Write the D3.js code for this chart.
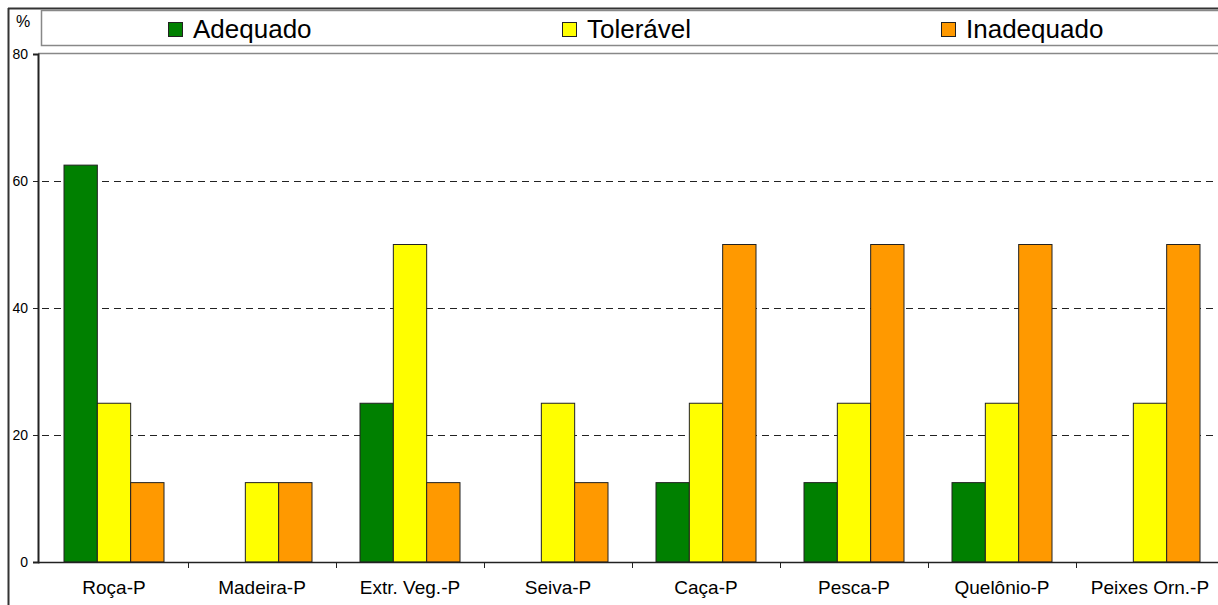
<!DOCTYPE html>
<html>
<head>
<meta charset="utf-8">
<script src="https://cdn.jsdelivr.net/npm/d3@7/dist/d3.min.js"></script>
<style>
  html, body { margin: 0; padding: 0; background: #fff; }
  svg { display: block; font-family: "Liberation Sans", Arial, sans-serif; }
</style>
</head>
<body>
<svg id="chart" width="1218" height="605"></svg>
<script>
// Activity categories along the x axis
const categories = ["Roça-P", "Madeira-P", "Extr. Veg.-P", "Seiva-P", "Caça-P", "Pesca-P", "Quelônio-P", "Peixes Orn.-P"];
// Percentages per rating
const adequado   = [62.5, 0, 25, 0, 12.5, 12.5, 12.5, 0];
const toleravel  = [25, 12.5, 50, 25, 25, 25, 25, 25];
const inadequado = [12.5, 12.5, 12.5, 12.5, 50, 50, 50, 50];
const seriesNames = ["Adequado", "Tolerável", "Inadequado"];
const seriesColors = ["#008000", "#ffff00", "#ff9900"];
const yTicks = [0, 20, 40, 60, 80];

const series = [adequado, toleravel, inadequado];
const svg = d3.select("#chart");

const plotLeft = 38, plotTop = 54, plotBottom = 562;

// category bands run slightly past the visible right edge
const x = d3.scaleBand().domain(categories).range([40, 1224]).paddingInner(0).paddingOuter(0);
const xs = d3.scaleBand().domain(seriesNames).range([0, x.bandwidth()]).paddingInner(0).paddingOuter(0.72);
const y = d3.scaleLinear().domain([0, 80]).range([plotBottom, plotTop]);

// outer frame
svg.append("line").attr("x1", 8).attr("x2", 1218).attr("y1", 8.5).attr("y2", 8.5).attr("stroke", "#333").attr("stroke-width", 2);
svg.append("line").attr("x1", 8.5).attr("x2", 8.5).attr("y1", 8).attr("y2", 605).attr("stroke", "#333").attr("stroke-width", 2);

// legend box
svg.append("rect").attr("x", 41.5).attr("y", 10.5).attr("width", 1180).attr("height", 35)
  .attr("fill", "#fff").attr("stroke", "#888").attr("stroke-width", 1.5);
const legendX = [168, 562, 941];
seriesNames.forEach((name, i) => {
  const g = svg.append("g").attr("transform", `translate(${legendX[i]},0)`);
  g.append("rect").attr("x", 0.5).attr("y", 22.5).attr("width", 14).attr("height", 14)
    .attr("fill", seriesColors[i]).attr("stroke", "#222").attr("stroke-width", 1);
  g.append("text").attr("x", 25).attr("y", 37.5).attr("font-size", 26).attr("fill", "#000").text(name);
});

// "%" unit label
svg.append("text").attr("x", 16).attr("y", 27).attr("font-size", 16).text("%");

// plot top border
svg.append("line").attr("x1", plotLeft).attr("x2", 1218).attr("y1", plotTop - 0.5).attr("y2", plotTop - 0.5)
  .attr("stroke", "#888").attr("stroke-width", 1.5);

// dashed gridlines
svg.append("g").selectAll("line").data(yTicks.filter(t => t > 0 && t < 80)).join("line")
  .attr("x1", plotLeft + 4).attr("x2", 1218)
  .attr("y1", d => Math.round(y(d)) + 0.5).attr("y2", d => Math.round(y(d)) + 0.5)
  .attr("stroke", "#222").attr("stroke-width", 1).attr("stroke-dasharray", "7,5");

// bars
const groups = svg.append("g").selectAll("g").data(categories).join("g")
  .attr("transform", d => `translate(${x(d)},0)`);
groups.each(function(cat, ci) {
  const g = d3.select(this);
  series.forEach((vals, si) => {
    const v = vals[ci];
    if (v <= 0) return;
    g.append("rect")
      .attr("x", xs(seriesNames[si]))
      .attr("y", y(v))
      .attr("width", xs.bandwidth())
      .attr("height", y(0) - y(v))
      .attr("fill", seriesColors[si])
      .attr("stroke", "#222").attr("stroke-width", 1);
  });
});

// y axis
const yAxis = d3.axisLeft(y).tickValues(yTicks).tickSize(5).tickPadding(5).tickFormat(d3.format("d"));
const yg = svg.append("g").attr("transform", `translate(${plotLeft},0)`).call(yAxis);
yg.select(".domain").attr("stroke", "#222").attr("stroke-width", 2);
yg.selectAll(".tick line").attr("stroke", "#222");
yg.selectAll(".tick text").attr("font-size", 14).attr("font-family", "Liberation Sans, Arial, sans-serif").attr("fill", "#000");

// x axis with ticks at category boundaries
svg.append("line").attr("x1", plotLeft).attr("x2", 1218).attr("y1", plotBottom + 0.5).attr("y2", plotBottom + 0.5)
  .attr("stroke", "#222").attr("stroke-width", 1.5);
svg.append("g").selectAll("line").data(categories.slice(1)).join("line")
  .attr("x1", d => Math.round(x(d)) + 0.5).attr("x2", d => Math.round(x(d)) + 0.5)
  .attr("y1", plotBottom).attr("y2", plotBottom + 6).attr("stroke", "#222");
svg.append("g").selectAll("text").data(categories).join("text")
  .attr("x", d => x(d) + x.bandwidth() / 2).attr("y", 594)
  .attr("text-anchor", "middle").attr("font-size", 19).attr("fill", "#000")
  .text(d => d);
</script>
</body>
</html>
